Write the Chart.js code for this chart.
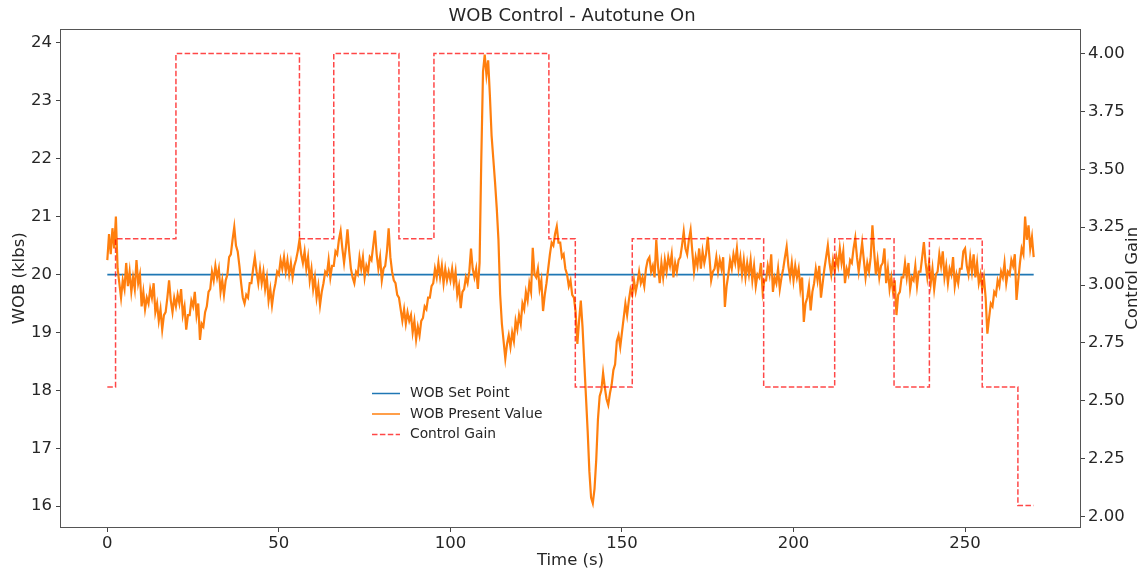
<!DOCTYPE html>
<html>
<head>
<meta charset="utf-8">
<title>WOB Control - Autotune On</title>
<script src="https://cdn.jsdelivr.net/npm/chart.js@4.4.1/dist/chart.umd.min.js"></script>
<style>
  html, body { margin: 0; padding: 0; background: #fff; }
  #wrap { width: 1144px; height: 571px; }
</style>
</head>
<body>
<div id="wrap"><canvas id="wobChart" width="1144" height="571"></canvas></div>
<script>
// WOB present value, sampled every 0.5 s from t = 0 to t = 270 (one row = 10 s)
const sampleStep = 0.5;
const wobPresent = [
  20.25, 20.7, 20.35, 20.8, 20.45, 21.0, 20.1, 19.85, 19.6, 19.9, 19.75, 20.2, 19.8, 20.05, 19.7, 19.95, 19.75, 20.25, 19.85, 20.0,
  19.45, 19.7, 19.4, 19.6, 19.5, 19.75, 19.6, 19.85, 19.35, 19.5, 19.2, 19.4, 19.05, 19.3, 19.35, 19.6, 19.9, 19.55, 19.35, 19.6,
  19.45, 19.65, 19.5, 19.75, 19.3, 19.45, 19.05, 19.3, 19.3, 19.55, 19.45, 19.7, 19.3, 19.5, 18.87, 19.15, 19.1, 19.35, 19.45, 19.7,
  19.75, 20.05, 19.9, 20.15, 19.95, 20.1, 19.7, 19.9, 19.65, 19.9, 20.0, 20.3, 20.35, 20.6, 20.82, 20.5, 20.4, 20.15, 19.85, 19.6,
  19.5, 19.65, 19.6, 19.85, 19.85, 20.1, 20.3, 20.05, 19.85, 20.1, 19.85, 20.05, 19.75, 19.95, 19.55, 19.75, 19.47, 19.7, 19.85, 20.05,
  20.0, 20.25, 20.1, 20.3, 20.05, 20.25, 20.0, 20.2, 19.95, 20.15, 20.25, 20.4, 20.6, 20.35, 20.2, 20.4, 20.1, 20.3, 19.9, 20.1,
  19.75, 19.95, 19.6, 19.8, 19.47, 19.7, 19.85, 20.05, 20.0, 20.25, 19.95, 20.15, 20.15, 20.4, 20.35, 20.6, 20.75, 20.45, 20.2, 20.45,
  20.78, 20.4, 20.1, 19.95, 19.85, 20.05, 20.0, 20.3, 20.1, 20.3, 19.95, 20.15, 20.05, 20.3, 20.25, 20.5, 20.76, 20.35, 20.1, 20.3,
  19.9, 20.1, 20.15, 20.4, 20.8, 20.3, 20.05, 19.9, 19.85, 19.65, 19.6, 19.4, 19.2, 19.4, 19.15, 19.35, 19.2, 19.3, 19.0, 19.2,
  18.88, 19.1, 18.95, 19.2, 19.25, 19.45, 19.4, 19.6, 19.6, 19.8, 19.85, 20.1, 19.95, 20.2, 19.95, 20.15, 19.85, 20.1, 19.9, 20.05,
  19.9, 20.1, 19.85, 20.05, 19.65, 19.8, 19.42, 19.7, 19.75, 19.95, 19.85, 20.05, 20.45, 20.1, 19.95, 20.1, 19.75, 20.2, 22.0, 23.5,
  23.8, 23.45, 23.7, 23.1, 22.4, 22.0, 21.6, 21.15, 20.6, 19.65, 19.15, 18.85, 18.55, 18.8, 18.95, 18.75, 19.0, 18.85, 19.2, 19.05,
  19.3, 19.15, 19.5, 19.4, 19.7, 19.55, 19.85, 19.7, 20.46, 20.0, 19.95, 20.1, 19.75, 19.9, 19.37, 19.65, 19.85, 20.1, 20.35, 20.55,
  20.5, 20.7, 20.83, 20.55, 20.55, 20.3, 20.35, 20.1, 20.0, 19.8, 19.9, 19.65, 19.6, 19.35, 18.8, 19.2, 19.55, 19.1, 18.5, 17.9,
  17.3, 16.6, 16.15, 16.05, 16.3, 16.8, 17.5, 17.9, 18.0, 18.3, 18.05, 17.85, 17.75, 17.95, 18.1, 18.35, 18.45, 18.85, 18.95, 18.75,
  19.0, 19.25, 19.5, 19.3, 19.55, 19.75, 19.65, 19.9, 19.7, 19.85, 20.05, 19.85, 19.95, 19.8, 20.1, 20.25, 20.3, 20.05, 20.15, 19.95,
  20.6, 20.15, 19.85, 20.2, 19.95, 20.25, 20.05, 20.3, 20.15, 20.35, 19.95, 20.2, 20.05, 20.25, 20.3, 20.5, 20.74, 20.45, 20.35, 20.6,
  20.77, 20.4, 20.05, 20.3, 20.15, 20.45, 20.1, 20.4, 20.2, 20.35, 20.65, 20.3, 19.9, 20.05, 20.1, 20.3, 20.05, 20.25, 20.1, 20.3,
  19.44, 19.8, 20.0, 20.25, 20.1, 20.35, 20.2, 20.45, 20.1, 20.3, 20.0, 20.25, 19.95, 20.2, 20.0, 20.25, 19.9, 20.15, 19.8, 20.0,
  19.95, 20.2, 19.7, 19.9, 19.9, 20.15, 20.0, 20.35, 19.7, 19.95, 19.85, 20.1, 19.75, 19.95, 20.1, 20.3, 20.48, 20.15, 19.95, 20.2,
  19.9, 20.15, 19.95, 20.1, 19.75, 19.95, 19.18, 19.5, 19.6, 19.8, 19.38, 19.7, 19.85, 20.1, 19.9, 20.15, 19.6, 19.85, 20.1, 20.3,
  20.5, 20.2, 20.0, 20.25, 20.05, 20.3, 20.15, 20.45, 20.2, 20.4, 19.85, 20.1, 20.0, 20.25, 20.2, 20.45, 20.63, 20.3, 20.05, 20.3,
  20.55, 20.25, 19.95, 20.2, 20.05, 20.3, 20.85, 20.4, 20.0, 20.25, 19.95, 20.15, 20.2, 20.45, 19.85, 20.1, 19.75, 19.95, 19.7, 19.9,
  19.3, 19.65, 19.7, 19.95, 19.95, 20.2, 19.95, 20.2, 19.75, 19.95, 19.9, 20.15, 19.8, 20.05, 20.05, 20.3, 20.56, 20.2, 19.95, 20.2,
  19.85, 20.1, 19.75, 20.0, 20.05, 20.35, 20.15, 20.4, 19.95, 20.15, 19.85, 20.1, 20.0, 20.3, 19.8, 20.0, 19.85, 20.1, 20.1, 20.4,
  20.45, 20.15, 20.0, 20.3, 20.05, 20.35, 19.95, 20.2, 19.85, 20.0, 19.75, 19.95, 19.6, 18.98, 19.25, 19.5, 19.45, 19.7, 19.65, 19.9,
  19.8, 20.05, 19.95, 20.2, 19.85, 20.05, 20.0, 20.25, 20.15, 20.35, 19.56, 19.9, 20.2, 20.45, 20.35, 21.0, 20.6, 20.85, 20.45, 20.65,
  20.3
];

// set point is constant over the run
const setPointTimes = [0, 270];
const setPointValues = [20, 20];

// controller gain, held from each switch time until the next one
const gainTimes = [0, 2.4, 20, 56, 66, 85, 95.2, 128.7, 136.4, 153, 191.3, 212, 229.3, 239.6, 255, 265.4, 270];
const gainValues = [2.56, 3.2, 4.0, 3.2, 4.0, 3.2, 4.0, 3.2, 2.56, 3.2, 2.56, 3.2, 2.56, 3.2, 2.56, 2.048, 2.048];

const timeTicks = [0, 50, 100, 150, 200, 250];
const wobTicks = [16, 17, 18, 19, 20, 21, 22, 23, 24];
const gainTicks = [2.0, 2.25, 2.5, 2.75, 3.0, 3.25, 3.5, 3.75, 4.0];

const FONT = "'DejaVu Sans', 'Liberation Sans', sans-serif";
const TEXT = '#262626';

const presentPts = wobPresent.map((v, i) => ({ x: i * sampleStep, y: v }));
const setPts = setPointTimes.map((t, i) => ({ x: t, y: setPointValues[i] }));
const gainPts = gainTimes.map((t, i) => ({ x: t, y: gainValues[i] }));

const fixTicks = list => scale => { scale.ticks = list.map(v => ({ value: v })); };

// box around the plot area, drawn above the lines like the axes spines
const framePlugin = {
    id: 'frame',
    afterDatasetsDraw(chart) {
        const { ctx, chartArea: a } = chart;
        ctx.save();
        ctx.strokeStyle = '#555';
        ctx.lineWidth = 1;
        ctx.strokeRect(Math.round(a.left) - 0.5, Math.round(a.top) - 0.5,
            Math.round(a.right - a.left) + 1, Math.round(a.bottom - a.top) + 1);
        ctx.restore();
    }
};

// right axis title reads bottom-to-top, same as the left one
const gainTitle = {
    id: 'gainTitle',
    afterDraw(chart) {
        const { ctx, chartArea: a } = chart;
        ctx.save();
        ctx.translate(1133, (a.top + a.bottom) / 2);
        ctx.rotate(-Math.PI / 2);
        ctx.font = `16.5px ${FONT}`;
        ctx.fillStyle = TEXT;
        ctx.textAlign = 'center';
        ctx.textBaseline = 'middle';
        ctx.fillText('Control Gain', 0, 0);
        ctx.restore();
    }
};

// legend sitting inside the plot, below the set point line
const inlineLegend = {
    id: 'inlineLegend',
    afterDraw(chart) {
        const { ctx } = chart;
        const items = chart.data.datasets.slice().sort((a, b) => a.legendRank - b.legendRank);
        ctx.save();
        ctx.font = `13.8px ${FONT}`;
        ctx.textBaseline = 'middle';
        items.forEach((ds, i) => {
            const y = 393.5 + i * 20.5;
            ctx.beginPath();
            ctx.strokeStyle = ds.borderColor;
            ctx.lineWidth = 1.5;
            ctx.setLineDash(ds.borderDash || []);
            ctx.moveTo(372, y);
            ctx.lineTo(400, y);
            ctx.stroke();
            ctx.setLineDash([]);
            ctx.fillStyle = TEXT;
            ctx.fillText(ds.label, 410, y);
        });
        ctx.restore();
    }
};

new Chart(document.getElementById('wobChart').getContext('2d'), {
    type: 'line',
    data: {
        datasets: [
            {
                label: 'Control Gain', data: gainPts, yAxisID: 'y1', order: 0, legendRank: 2,
                borderColor: 'rgba(255, 0, 0, 0.72)', borderWidth: 1.5, borderDash: [5.5, 2.4],
                stepped: true, pointRadius: 0, fill: false
            },
            {
                label: 'WOB Present Value', data: presentPts, yAxisID: 'y', order: 1, legendRank: 1,
                borderColor: '#ff7f0e', borderWidth: 2.2, pointRadius: 0, tension: 0, fill: false
            },
            {
                label: 'WOB Set Point', data: setPts, yAxisID: 'y', order: 2, legendRank: 0,
                borderColor: '#1f77b4', borderWidth: 1.8, pointRadius: 0, fill: false
            }
        ]
    },
    options: {
        responsive: false,
        animation: false,
        layout: { padding: 0 },
        plugins: {
            legend: { display: false },
            tooltip: { enabled: false },
            title: {
                display: true,
                text: 'WOB Control - Autotune On',
                color: TEXT,
                font: { family: FONT, size: 18, weight: 'normal' },
                padding: { top: 6, bottom: 2 }
            }
        },
        scales: {
            x: {
                type: 'linear', position: 'bottom', min: -13.5, max: 283.5,
                afterBuildTicks: fixTicks(timeTicks),
                afterFit: s => { s.height = 44; },
                ticks: { color: TEXT, font: { family: FONT, size: 16.5 }, padding: 2, maxRotation: 0 },
                grid: { drawOnChartArea: false, drawTicks: true, tickLength: 5, tickColor: '#444' },
                border: { display: false },
                title: { display: true, text: 'Time (s)', color: TEXT, font: { family: FONT, size: 16.5 }, padding: { top: 0, bottom: 0 } }
            },
            y: {
                type: 'linear', position: 'left', min: 15.64, max: 24.23,
                afterBuildTicks: fixTicks(wobTicks),
                afterFit: s => { s.width = 61; },
                ticks: { color: TEXT, font: { family: FONT, size: 16.5 }, padding: 4, callback: v => String(v) },
                grid: { drawOnChartArea: false, drawTicks: true, tickLength: 5, tickColor: '#444' },
                border: { display: false },
                title: { display: true, text: 'WOB (klbs)', color: TEXT, font: { family: FONT, size: 16.5 }, padding: { top: 10, bottom: 0 } }
            },
            y1: {
                type: 'linear', position: 'right', min: 1.955, max: 4.103,
                afterBuildTicks: fixTicks(gainTicks),
                afterFit: s => { s.width = 64; },
                ticks: { color: TEXT, font: { family: FONT, size: 16.5 }, padding: 3, callback: v => v.toFixed(2) },
                grid: { drawOnChartArea: false, drawTicks: true, tickLength: 5, tickColor: '#444' },
                border: { display: false },
                title: { display: false }
            }
        }
    },
    plugins: [framePlugin, gainTitle, inlineLegend]
});
</script>
</body>
</html>
